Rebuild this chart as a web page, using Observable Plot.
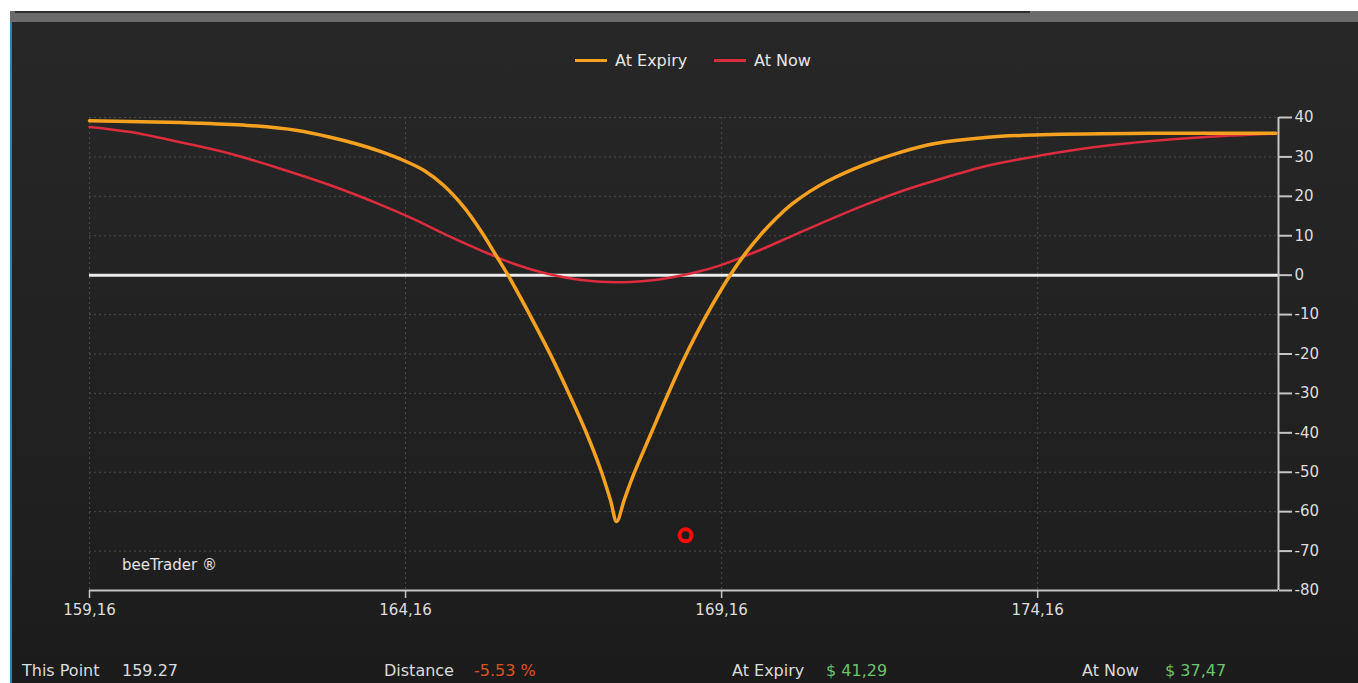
<!DOCTYPE html>
<html>
<head>
<meta charset="utf-8">
<script src="https://cdn.jsdelivr.net/npm/d3@7"></script>
<script src="https://cdn.jsdelivr.net/npm/@observablehq/plot@0.6"></script>
<style>
  html, body { margin: 0; padding: 0; background: #ffffff; width: 1358px; height: 683px; overflow: hidden; font-family: "DejaVu Sans", sans-serif; }
  #topbar { position: absolute; left: 10px; top: 11px; width: 1348px; height: 11px; background: #6b6b6b; }
  #topbar .dark { position: absolute; left: 5px; top: 0; width: 1015px; height: 2px; background: #2e2e2e; }
  #panel { position: absolute; left: 10px; top: 22px; width: 1348px; height: 661px;
           background: linear-gradient(#272727 0%, #232323 40%, #1e1e1e 85%, #1b1b1b 100%);
           border-left: 2px solid #2b87a6; box-sizing: border-box; }
  #chart { position: absolute; left: 0; top: 0; }
  .legend { position: absolute; top: 51px; font-size: 16px; color: #e6e6e6; white-space: nowrap; }
  .sw { position: absolute; top: 59px; height: 3px; width: 32px; }
  .foot { position: absolute; top: 661px; font-size: 16px; color: #dcdcdc; white-space: nowrap; }
  .brand { position: absolute; left: 122px; top: 556px; font-size: 15px; color: #e4e4e4; }
</style>
</head>
<body>
<div id="topbar"><div class="dark"></div></div>
<div id="panel"></div>
<div id="chart"></div>

<div class="sw" style="left:575px; background:#f6a11f;"></div>
<div class="legend" style="left:615px;">At Expiry</div>
<div class="sw" style="left:714px; background:#dc2c3e;"></div>
<div class="legend" style="left:754px;">At Now</div>

<div class="brand">beeTrader ®</div>

<div class="foot" style="left:22px;">This Point</div>
<div class="foot" style="left:122px;">159.27</div>
<div class="foot" style="left:384px;">Distance</div>
<div class="foot" style="left:474px; color:#e0501e;">-5.53 %</div>
<div class="foot" style="left:732px;">At Expiry</div>
<div class="foot" style="left:826px; color:#6cc46c;">$ 41,29</div>
<div class="foot" style="left:1082px;">At Now</div>
<div class="foot" style="left:1165px; color:#6cc46c;">$ 37,47</div>

<script>
// ---- data ----
const expiryX = [159.16, 160.60, 161.66, 162.45, 162.97, 163.36, 163.76, 164.16, 164.46, 164.76, 165.08, 165.36, 165.58, 165.77, 166.14, 166.45, 166.72, 167.01, 167.25, 167.40, 167.50, 167.62, 167.77, 168.04, 168.30, 168.56, 168.93, 169.30, 169.54, 169.78, 170.02, 170.27, 170.55, 170.84, 171.41, 171.97, 172.54, 173.38, 174.22, 175.92, 177.93];
const expiryY = [39.2, 38.7, 38.0, 36.7, 35.0, 33.4, 31.4, 28.9, 26.5, 22.8, 17.3, 11.0, 5.3, 0.3, -10.5, -20.1, -29.2, -39.6, -49.5, -57.0, -62.5, -57.0, -50.5, -40.3, -30.6, -21.4, -9.9, 0.1, 5.6, 10.3, 14.4, 18.0, 21.2, 23.9, 28.0, 31.1, 33.4, 35.0, 35.6, 36.0, 36.0];

const nowX = [159.16, 159.81, 160.60, 161.39, 162.18, 162.97, 163.76, 164.29, 164.82, 165.35, 165.87, 166.40, 166.93, 167.56, 168.25, 168.77, 169.14, 169.71, 170.27, 170.84, 171.41, 171.97, 172.54, 173.38, 174.22, 175.07, 175.92, 176.77, 177.93];
const nowY = [37.6, 36.3, 33.7, 30.8, 27.0, 22.8, 17.9, 14.2, 10.1, 6.3, 2.9, 0.35, -1.2, -1.8, -0.9, 0.8, 2.5, 6.0, 9.9, 13.9, 17.7, 21.1, 24.0, 27.8, 30.4, 32.5, 34.0, 35.0, 35.9];

const pointX = [168.59];
const pointY = [-66];

const xTicks = [159.16, 164.16, 169.16, 174.16];
const xTickLabels = ["159,16", "164,16", "169,16", "174,16"];
const yTicks = [40, 30, 20, 10, 0, -10, -20, -30, -40, -50, -60, -70, -80];
const xDomain = [159.16, 177.97];
const yDomain = [-80, 40];

// ---- tables ----
const expiry = expiryX.map((x, i) => ({x, y: expiryY[i]}));
const now = nowX.map((x, i) => ({x, y: nowY[i]}));
const point = pointX.map((x, i) => ({x, y: pointY[i]}));

const chart = Plot.plot({
  width: 1358,
  height: 683,
  marginLeft: 89,
  marginRight: 80,
  marginTop: 117,
  marginBottom: 93,
  style: {background: "transparent", color: "#d6d6d6", fontFamily: "DejaVu Sans, sans-serif", fontSize: "15px", overflow: "visible"},
  x: {domain: xDomain},
  y: {domain: yDomain},
  marks: [
    Plot.gridY(yTicks.filter(d => d > -80), {stroke: "#4a4a4a", strokeOpacity: 1, strokeDasharray: "2,3"}),
    Plot.gridX(xTicks, {stroke: "#4a4a4a", strokeOpacity: 1, strokeDasharray: "2,3"}),
    Plot.ruleY([0], {stroke: "#ececec", strokeWidth: 3}),
    Plot.ruleY([-80], {stroke: "#c4c4c4", strokeWidth: 2}),
    Plot.ruleX([xDomain[1]], {stroke: "#c4c4c4", strokeWidth: 2}),
    Plot.axisY(yTicks, {anchor: "right", tickSize: 13, tickPadding: 3, tickFormat: d => String(d), stroke: "#c4c4c4", strokeWidth: 2, fill: "#dedede", fontSize: 15, label: null}),
    Plot.axisX(xTicks, {anchor: "bottom", tickSize: 8, tickPadding: 6, tickFormat: d => xTickLabels[xTicks.indexOf(d)], stroke: "#c4c4c4", strokeWidth: 1.5, fill: "#dedede", fontSize: 15, label: null}),
    Plot.line(now, {x: "x", y: "y", stroke: "#dc2c3e", strokeWidth: 2.5, curve: "catmull-rom"}),
    Plot.line(expiry, {x: "x", y: "y", stroke: "#f6a11f", strokeWidth: 3.5, curve: "catmull-rom"}),
    Plot.dot(point, {x: "x", y: "y", r: 6, stroke: "#ff0a0a", strokeWidth: 4, fill: "#1e1e1e"})
  ]
});
document.getElementById("chart").appendChild(chart);
</script>
</body>
</html>
